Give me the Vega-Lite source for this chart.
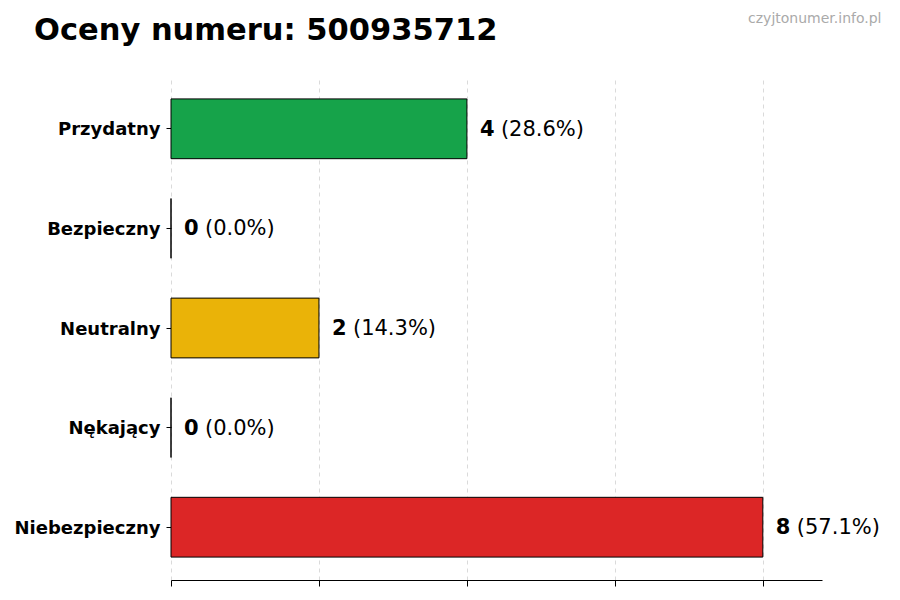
{
  "$schema": "https://vega.github.io/schema/vega-lite/v6.json",
  "autosize": "none",
  "width": 651,
  "height": 504,
  "padding": {"left": 171, "top": 76, "right": 78, "bottom": 20},
  "background": "white",
  "title": {
    "text": "Oceny numeru: 500935712",
    "anchor": "start",
    "frame": "group",
    "dx": -137,
    "offset": -59,
    "baseline": "alphabetic",
    "font": "DejaVu Sans",
    "fontSize": 30.5,
    "fontWeight": "bold",
    "color": "#000000"
  },
  "data": {
    "values": [
      {"kategoria": "Przydatny", "liczba": 4, "procent": "(28.6%)"},
      {"kategoria": "Bezpieczny", "liczba": 0, "procent": "(0.0%)"},
      {"kategoria": "Neutralny", "liczba": 2, "procent": "(14.3%)"},
      {"kategoria": "Nękający", "liczba": 0, "procent": "(0.0%)"},
      {"kategoria": "Niebezpieczny", "liczba": 8, "procent": "(57.1%)"}
    ]
  },
  "encoding": {
    "y": {
      "field": "kategoria",
      "type": "nominal",
      "sort": null,
      "scale": {"paddingInner": 0.4, "paddingOuter": 0.23},
      "axis": {
        "title": null,
        "domain": false,
        "ticks": true,
        "tickSize": 5,
        "tickColor": "#000000",
        "labelFont": "DejaVu Sans",
        "labelFontSize": 18,
        "labelFontWeight": "bold",
        "labelColor": "#000000",
        "labelPadding": 6,
        "labelOffset": 1.5,
        "grid": false
      }
    }
  },
  "layer": [
    {
      "mark": {"type": "bar", "stroke": "#000000", "strokeWidth": 1},
      "encoding": {
        "x": {
          "field": "liczba",
          "type": "quantitative",
          "scale": {"domain": [0, 8.8], "nice": false},
          "axis": {
            "title": null,
            "labels": false,
            "values": [0, 2, 4, 6, 8],
            "domainColor": "#000000",
            "tickColor": "#000000",
            "tickSize": 6,
            "grid": true,
            "gridColor": "#d0d0d0",
            "gridDash": [4, 4],
            "gridWidth": 0.8
          }
        },
        "color": {
          "field": "kategoria",
          "type": "nominal",
          "scale": {
            "domain": ["Przydatny", "Bezpieczny", "Neutralny", "Nękający", "Niebezpieczny"],
            "range": ["#16a34a", "#6b7280", "#eab308", "#f97316", "#dc2626"]
          },
          "legend": null
        }
      }
    },
    {
      "mark": {
        "type": "text",
        "align": "left",
        "baseline": "middle",
        "dx": 13,
        "dy": 1,
        "font": "DejaVu Sans",
        "fontSize": 21,
        "fontWeight": "bold",
        "color": "#000000"
      },
      "encoding": {
        "x": {
          "field": "liczba",
          "type": "quantitative",
          "axis": {
            "orient": "top",
            "title": "czyjtonumer.info.pl",
            "titleFont": "DejaVu Sans",
            "titleFontSize": 14,
            "titleFontWeight": "normal",
            "titleColor": "#aaaaaa",
            "titleAnchor": "end",
            "titleAlign": "right",
            "titleBaseline": "alphabetic",
            "titleX": 710,
            "titleY": -54,
            "labels": false,
            "ticks": false,
            "domain": false,
            "grid": false
          }
        },
        "text": {"field": "liczba", "type": "quantitative"}
      }
    },
    {
      "mark": {
        "type": "text",
        "align": "left",
        "baseline": "middle",
        "dx": 34,
        "dy": 1,
        "font": "DejaVu Sans",
        "fontSize": 21,
        "color": "#000000"
      },
      "encoding": {
        "x": {"field": "liczba", "type": "quantitative", "axis": null},
        "text": {"field": "procent", "type": "nominal"}
      }
    }
  ],
  "resolve": {"axis": {"x": "independent"}},
  "config": {"view": {"stroke": null}}
}
